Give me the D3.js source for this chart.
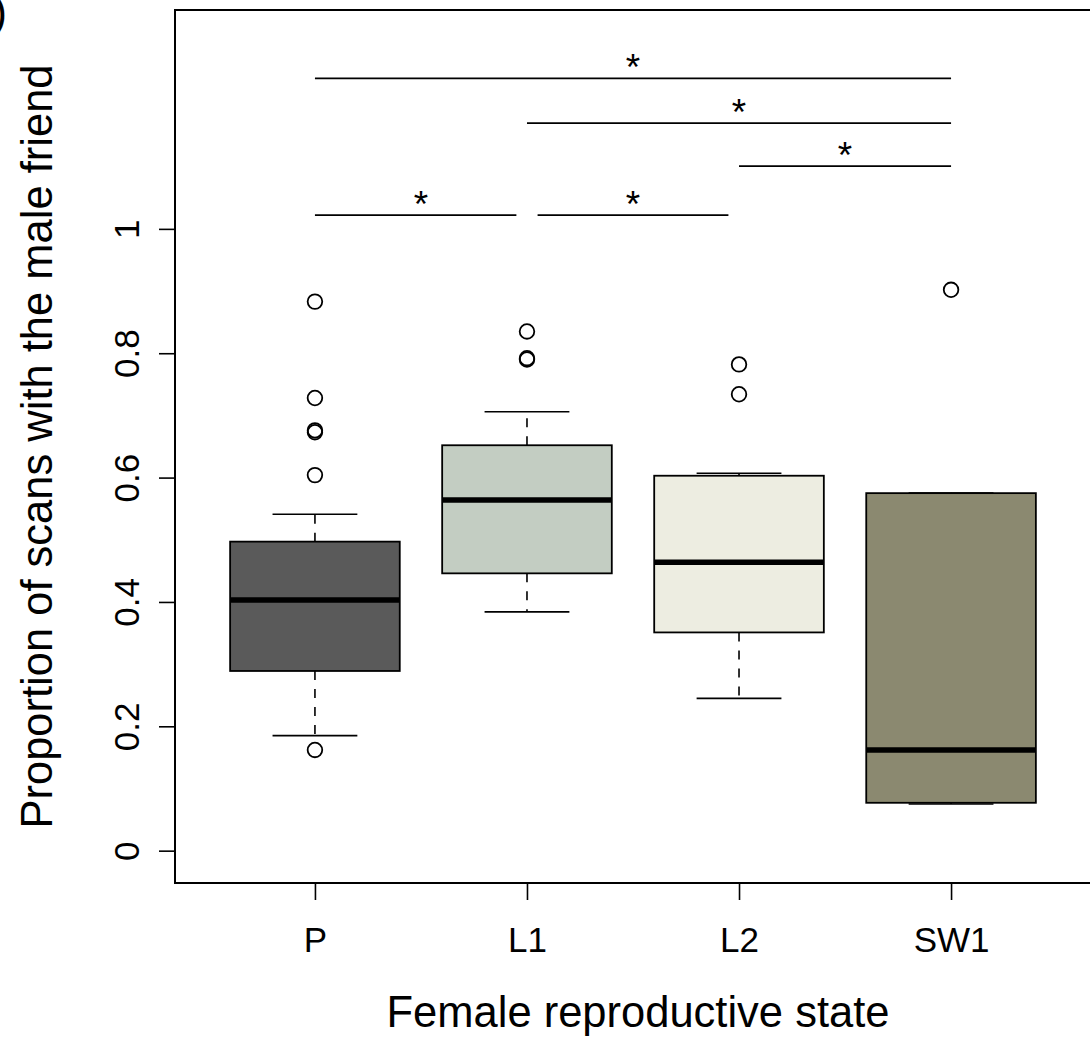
<!DOCTYPE html>
<html>
<head>
<meta charset="utf-8">
<script src="https://cdn.jsdelivr.net/npm/d3@7"></script>
<style>
  body { margin: 0; background: #fff; }
  svg text { font-family: "Liberation Sans", Arial, Helvetica, sans-serif; fill: #000; }
</style>
</head>
<body>
<div id="chart"></div>
<script>
// Box statistics per reproductive state
const groups = ["P", "L1", "L2", "SW1"];
const whiskLo = [0.185, 0.384, 0.245, 0.075];
const q1 = [0.289, 0.446, 0.351, 0.077];
const medians = [0.403, 0.564, 0.464, 0.162];
const q3 = [0.497, 0.652, 0.603, 0.575];
const whiskHi = [0.541, 0.706, 0.607, 0.575];
const outliers = [
  [0.883, 0.728, 0.676, 0.673, 0.604, 0.162],
  [0.835, 0.792, 0.790],
  [0.782, 0.734],
  [0.902]
];

// Pairwise comparisons drawn above the boxes
const sigFrom = [1, 2, 3, 1, 2.05];
const sigTo = [4, 4, 4, 1.95, 2.95];
const sigLevel = [1.242, 1.170, 1.101, 1.022, 1.022];
const sigStarX = [2.5, 3, 3.5, 1.5, 2.5];
const sigLabel = ["*", "*", "*", "*", "*"];

const yTicks = [0, 0.2, 0.4, 0.6, 0.8, 1];

const fills = ["#5a5a5a", "#c3cdc2", "#edede1", "#8b8970"];

// layout
const W = 1090, H = 1040;
const plot = {left: 175, right: 1091, top: 10, bottom: 883};

const x = d3.scaleLinear().domain([0.34, 4.66]).range([plot.left, plot.right]);
const y = d3.scaleLinear().domain([-0.052, 1.352]).range([plot.bottom, plot.top]);

const svg = d3.select("#chart").append("svg")
    .attr("width", W)
    .attr("height", H);

const boxHalf = 0.4, capHalf = 0.2;

const data = groups.map((g, i) => ({
  name: g, pos: i + 1, lo: whiskLo[i], q1: q1[i], med: medians[i],
  q3: q3[i], hi: whiskHi[i], out: outliers[i], fill: fills[i]
}));

const box = svg.append("g").selectAll("g").data(data).enter().append("g");

// dashed whiskers
box.append("line")
    .attr("x1", d => x(d.pos)).attr("x2", d => x(d.pos))
    .attr("y1", d => y(d.q3)).attr("y2", d => y(d.hi))
    .attr("stroke", "#000").attr("stroke-width", 1.6).attr("stroke-dasharray", "9,9");
box.append("line")
    .attr("x1", d => x(d.pos)).attr("x2", d => x(d.pos))
    .attr("y1", d => y(d.q1)).attr("y2", d => y(d.lo))
    .attr("stroke", "#000").attr("stroke-width", 1.6).attr("stroke-dasharray", "9,9");

// staples
["lo", "hi"].forEach(k => {
  box.append("line")
      .attr("x1", d => x(d.pos - capHalf)).attr("x2", d => x(d.pos + capHalf))
      .attr("y1", d => y(d[k])).attr("y2", d => y(d[k]))
      .attr("stroke", "#000").attr("stroke-width", 1.6);
});

// boxes
box.append("rect")
    .attr("x", d => x(d.pos - boxHalf))
    .attr("width", d => x(d.pos + boxHalf) - x(d.pos - boxHalf))
    .attr("y", d => y(d.q3))
    .attr("height", d => y(d.q1) - y(d.q3))
    .attr("fill", d => d.fill)
    .attr("stroke", "#000").attr("stroke-width", 1.8);

// medians
box.append("line")
    .attr("x1", d => x(d.pos - boxHalf)).attr("x2", d => x(d.pos + boxHalf))
    .attr("y1", d => y(d.med)).attr("y2", d => y(d.med))
    .attr("stroke", "#000").attr("stroke-width", 5.5);

// outliers
box.selectAll("circle").data(d => d.out.map(v => ({pos: d.pos, v: v}))).enter()
    .append("circle")
    .attr("cx", d => x(d.pos)).attr("cy", d => y(d.v)).attr("r", 7.3)
    .attr("fill", "none").attr("stroke", "#000").attr("stroke-width", 1.8);

// significance bars
const sig = svg.append("g").selectAll("g").data(sigLevel).enter().append("g");
sig.append("line")
    .attr("x1", (d, i) => x(sigFrom[i])).attr("x2", (d, i) => x(sigTo[i]))
    .attr("y1", d => y(d)).attr("y2", d => y(d))
    .attr("stroke", "#000").attr("stroke-width", 1.8);
sig.append("text")
    .attr("x", (d, i) => x(sigStarX[i]))
    .attr("y", d => y(d) + 2)
    .attr("text-anchor", "middle")
    .attr("font-size", 37)
    .text((d, i) => sigLabel[i]);

// axes
const yAxis = svg.append("g")
    .attr("transform", "translate(" + plot.left + ",0)")
    .call(d3.axisLeft(y).tickValues(yTicks).tickSize(16).tickFormat(d3.format("~g")));
yAxis.select(".domain").remove();
yAxis.selectAll(".tick line").attr("stroke-width", 1.6);
yAxis.selectAll(".tick text")
    .attr("transform", "rotate(-90)")
    .attr("x", 0).attr("y", -36).attr("dy", 0)
    .attr("text-anchor", "middle")
    .attr("font-size", 35)
    .attr("font-family", null);

const xAxis = svg.append("g")
    .attr("transform", "translate(0," + plot.bottom + ")")
    .call(d3.axisBottom(x).tickValues(data.map(d => d.pos)).tickSize(17)
      .tickFormat((d, i) => groups[i]));
xAxis.select(".domain").remove();
xAxis.selectAll(".tick line").attr("stroke-width", 1.6);
xAxis.selectAll(".tick text")
    .attr("y", 69).attr("dy", 0)
    .attr("font-size", 35)
    .attr("font-family", null);

// plot frame
svg.append("rect")
    .attr("x", plot.left).attr("y", plot.top)
    .attr("width", plot.right - plot.left).attr("height", plot.bottom - plot.top)
    .attr("fill", "none").attr("stroke", "#000").attr("stroke-width", 2);

// axis titles
svg.append("text")
    .attr("x", (plot.left + plot.right) / 2 + 5).attr("y", 1027)
    .attr("text-anchor", "middle").attr("font-size", 43.5)
    .text("Female reproductive state");
svg.append("text")
    .attr("transform", "translate(52," + ((plot.top + plot.bottom) / 2) + ") rotate(-90)")
    .attr("text-anchor", "middle").attr("font-size", 43.5)
    .text("Proportion of scans with the male friend");

// panel letter, mostly outside the page (cut off in the original too)
svg.append("text")
    .attr("x", 7).attr("y", 27)
    .attr("text-anchor", "end").attr("font-size", 43.5)
    .text("(b)");
</script>
</body>
</html>
